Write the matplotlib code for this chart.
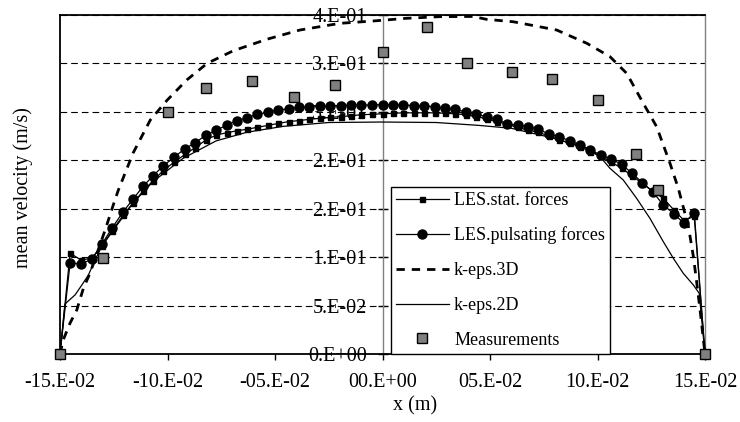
import matplotlib
matplotlib.use('Agg')
import matplotlib.pyplot as plt

plt.rcParams['font.family'] = ['Liberation Serif', 'DejaVu Serif']

# LES runs share the same x grid
x_les = [-0.1500, -0.1453, -0.1402, -0.1351, -0.1305, -0.1258, -0.1207, -0.1160, -0.1114,
         -0.1067, -0.1021, -0.0970, -0.0919, -0.0872, -0.0821, -0.0774, -0.0723, -0.0677,
         -0.0630, -0.0584, -0.0533, -0.0486, -0.0435, -0.0388, -0.0340, -0.0292, -0.0243,
         -0.0195, -0.0147, -0.0098, -0.0050, 0.0000, 0.0048, 0.0097, 0.0145, 0.0193,
         0.0242, 0.0290, 0.0338, 0.0387, 0.0435, 0.0484, 0.0532, 0.0580, 0.0629, 0.0677,
         0.0725, 0.0774, 0.0822, 0.0870, 0.0919, 0.0967, 0.1015, 0.1064, 0.1112, 0.1160,
         0.1209, 0.1257, 0.1305, 0.1354, 0.1402, 0.1450, 0.1500]
y_les_stat = [0.000, 0.104, 0.097, 0.099, 0.112, 0.127, 0.143, 0.156, 0.168,
              0.179, 0.189, 0.198, 0.206, 0.213, 0.221, 0.226, 0.2285, 0.2305,
              0.232, 0.234, 0.236, 0.238, 0.240, 0.241, 0.2423, 0.2433, 0.2443,
              0.245, 0.246, 0.247, 0.2475, 0.248, 0.2485, 0.249, 0.249, 0.249,
              0.249, 0.2485, 0.248, 0.247, 0.245, 0.243, 0.240, 0.237, 0.234, 0.231,
              0.229, 0.225, 0.221, 0.218, 0.214, 0.209, 0.204, 0.198, 0.192, 0.184,
              0.176, 0.168, 0.161, 0.149, 0.138, 0.142, 0.000]
y_les_puls = [0.000, 0.094, 0.093, 0.098, 0.1135, 0.130, 0.1466, 0.160, 0.173,
              0.184, 0.194, 0.203, 0.212, 0.218, 0.226, 0.231, 0.2364, 0.241,
              0.244, 0.2475, 0.2495, 0.252, 0.253, 0.2547, 0.2555, 0.256, 0.256,
              0.2563, 0.2567, 0.257, 0.257, 0.2575, 0.2575, 0.257, 0.2565, 0.256,
              0.2553, 0.2537, 0.2526, 0.250, 0.2475, 0.245, 0.2423, 0.2375, 0.2364, 0.2347,
              0.232, 0.2271, 0.2243, 0.2202, 0.2158, 0.2106, 0.2055, 0.201, 0.196, 0.1866,
              0.177, 0.1676, 0.154, 0.145, 0.135, 0.146, 0.000]

x_3d = [-0.1500, -0.1485, -0.1453, -0.1422, -0.1391, -0.1360, -0.1290, -0.1252, -0.1229,
        -0.1160, -0.1080, -0.1002, -0.0910, -0.0816, -0.0695, -0.0537, -0.0384, -0.0198,
        -0.0043, 0.0112, 0.0267, 0.0420, 0.0485, 0.0609, 0.0810, 0.0951, 0.1058, 0.1136,
        0.1213, 0.1275, 0.1337, 0.1376, 0.1423, 0.1446, 0.1462, 0.1477, 0.1500]
y_3d = [0.000, 0.0145, 0.032, 0.0454, 0.068, 0.0836, 0.128, 0.154, 0.169,
        0.2075, 0.2416, 0.262, 0.283, 0.300, 0.313, 0.325, 0.3345, 0.3414,
        0.3438, 0.3466, 0.3483, 0.3485, 0.3455, 0.343, 0.3345, 0.3207, 0.307, 0.2897,
        0.2588, 0.2347, 0.197, 0.171, 0.1314, 0.1005, 0.073, 0.0454, 0.000]

x_2d = [-0.1500, -0.1477, -0.1430, -0.1399, -0.1368, -0.1337, -0.1306, -0.1258, -0.1160,
        -0.1067, -0.0928, -0.0774, -0.0630, -0.0463, -0.0250, 0.0000, 0.0250, 0.0450,
        0.0600, 0.0793, 0.0950, 0.1012, 0.1058, 0.1120, 0.1182, 0.1244, 0.1306, 0.1353,
        0.1399, 0.1446, 0.1473, 0.1500]
y_2d = [0.000, 0.0516, 0.061, 0.071, 0.0815, 0.097, 0.111, 0.126, 0.156,
        0.178, 0.202, 0.220, 0.229, 0.235, 0.239, 0.2395, 0.239, 0.236,
        0.233, 0.223, 0.2125, 0.2037, 0.1917, 0.1796, 0.1607, 0.140, 0.116, 0.0987,
        0.0833, 0.0712, 0.0627, 0.000]

x_meas = [-0.150, -0.130, -0.100, -0.082, -0.0605, -0.041, -0.022, 0.000,
          0.0205, 0.0395, 0.060, 0.079, 0.100, 0.118, 0.128, 0.150]
y_meas = [0.000, 0.0995, 0.250, 0.275, 0.282, 0.2655, 0.278, 0.312,
          0.338, 0.300, 0.291, 0.284, 0.262, 0.2065, 0.169, 0.000]

x_ticks = [-0.15, -0.10, -0.05, 0.0, 0.05, 0.10, 0.15]
x_ticklabels = ['-15.E-02', '-10.E-02', '-05.E-02', '00.E+00', '05.E-02', '10.E-02', '15.E-02']
y_ticks = [0.0, 0.05, 0.10, 0.15, 0.20, 0.25, 0.30, 0.35]
y_ticklabels = ['0.E+00', '5.E-02', '1.E-01', '2.E-01', '2.E-01', '3.E-01', '3.E-01', '4.E-01']

fig = plt.figure(figsize=(7.4, 4.22), dpi=100)
ax = fig.add_axes([60 / 740, 68 / 422, 645 / 740, 339 / 422])

l_stat, = ax.plot(x_les, y_les_stat, color='k', lw=0.9, marker='s', ms=3.6,
                  zorder=5, clip_on=False, label='LES.stat. forces')
l_puls, = ax.plot(x_les, y_les_puls, color='k', lw=0.9, marker='o', ms=6.5,
                  zorder=4, clip_on=False, label='LES.pulsating forces')
l_3d, = ax.plot(x_3d, y_3d, color='k', lw=2.0, dashes=(3, 2.5),
                zorder=3, clip_on=False, label='k-eps.3D')
l_2d, = ax.plot(x_2d, y_2d, color='k', lw=0.9, zorder=3, clip_on=False, label='k-eps.2D')
l_meas, = ax.plot(x_meas, y_meas, ls='none', marker='s', ms=7.5, mfc='#808080',
                  mec='k', mew=1.0, zorder=6, clip_on=False, label='Measurements')

ax.set_xlim(-0.15, 0.15)
ax.set_ylim(0, 0.35)

# frame: y axis sits at x = 0, black border left/top, grey on the right
ax.spines['left'].set_position(('data', 0))
ax.spines['left'].set_color('#808080')
ax.spines['left'].set_linewidth(1.0)
ax.spines['right'].set_color('#808080')
ax.spines['right'].set_linewidth(1.0)
ax.spines['top'].set_linewidth(1.3)
ax.spines['bottom'].set_linewidth(1.3)
ax.plot([0, 0], [0, 1], transform=ax.transAxes, color='k', lw=1.3, clip_on=False, zorder=2.6)

ax.set_xticks(x_ticks)
ax.set_xticklabels(x_ticklabels)
ax.set_yticks(y_ticks)
ax.set_yticklabels(y_ticklabels)
ax.tick_params(axis='x', direction='out', length=4, width=1, labelsize=14.5, pad=10)
ax.tick_params(axis='y', direction='inout', length=7, width=1, labelsize=14.5, pad=8)

ax.yaxis.grid(True, color='k', lw=0.8, linestyle=(0, (6, 3.6)))
ax.set_axisbelow(True)

ax.set_xlabel('x (m)', fontsize=14.5)
ax.set_ylabel('mean velocity (m/s)', fontsize=14.5)
ax.xaxis.set_label_coords(0.55, -0.125)
ax.yaxis.set_label_coords(-0.042, 0.49)

leg = ax.legend(handles=[l_stat, l_puls, l_3d, l_2d, l_meas], loc='lower left',
                bbox_to_anchor=(0.513, 0.0), borderaxespad=0, fontsize=13,
                frameon=True, fancybox=False, framealpha=1, edgecolor='k',
                handlelength=2.9, handletextpad=0.3, borderpad=0.3, labelspacing=0.98)
leg.get_frame().set_linewidth(1.0)
leg.set_zorder(7)

plt.savefig('out.png', dpi=100)
plt.close(fig)
